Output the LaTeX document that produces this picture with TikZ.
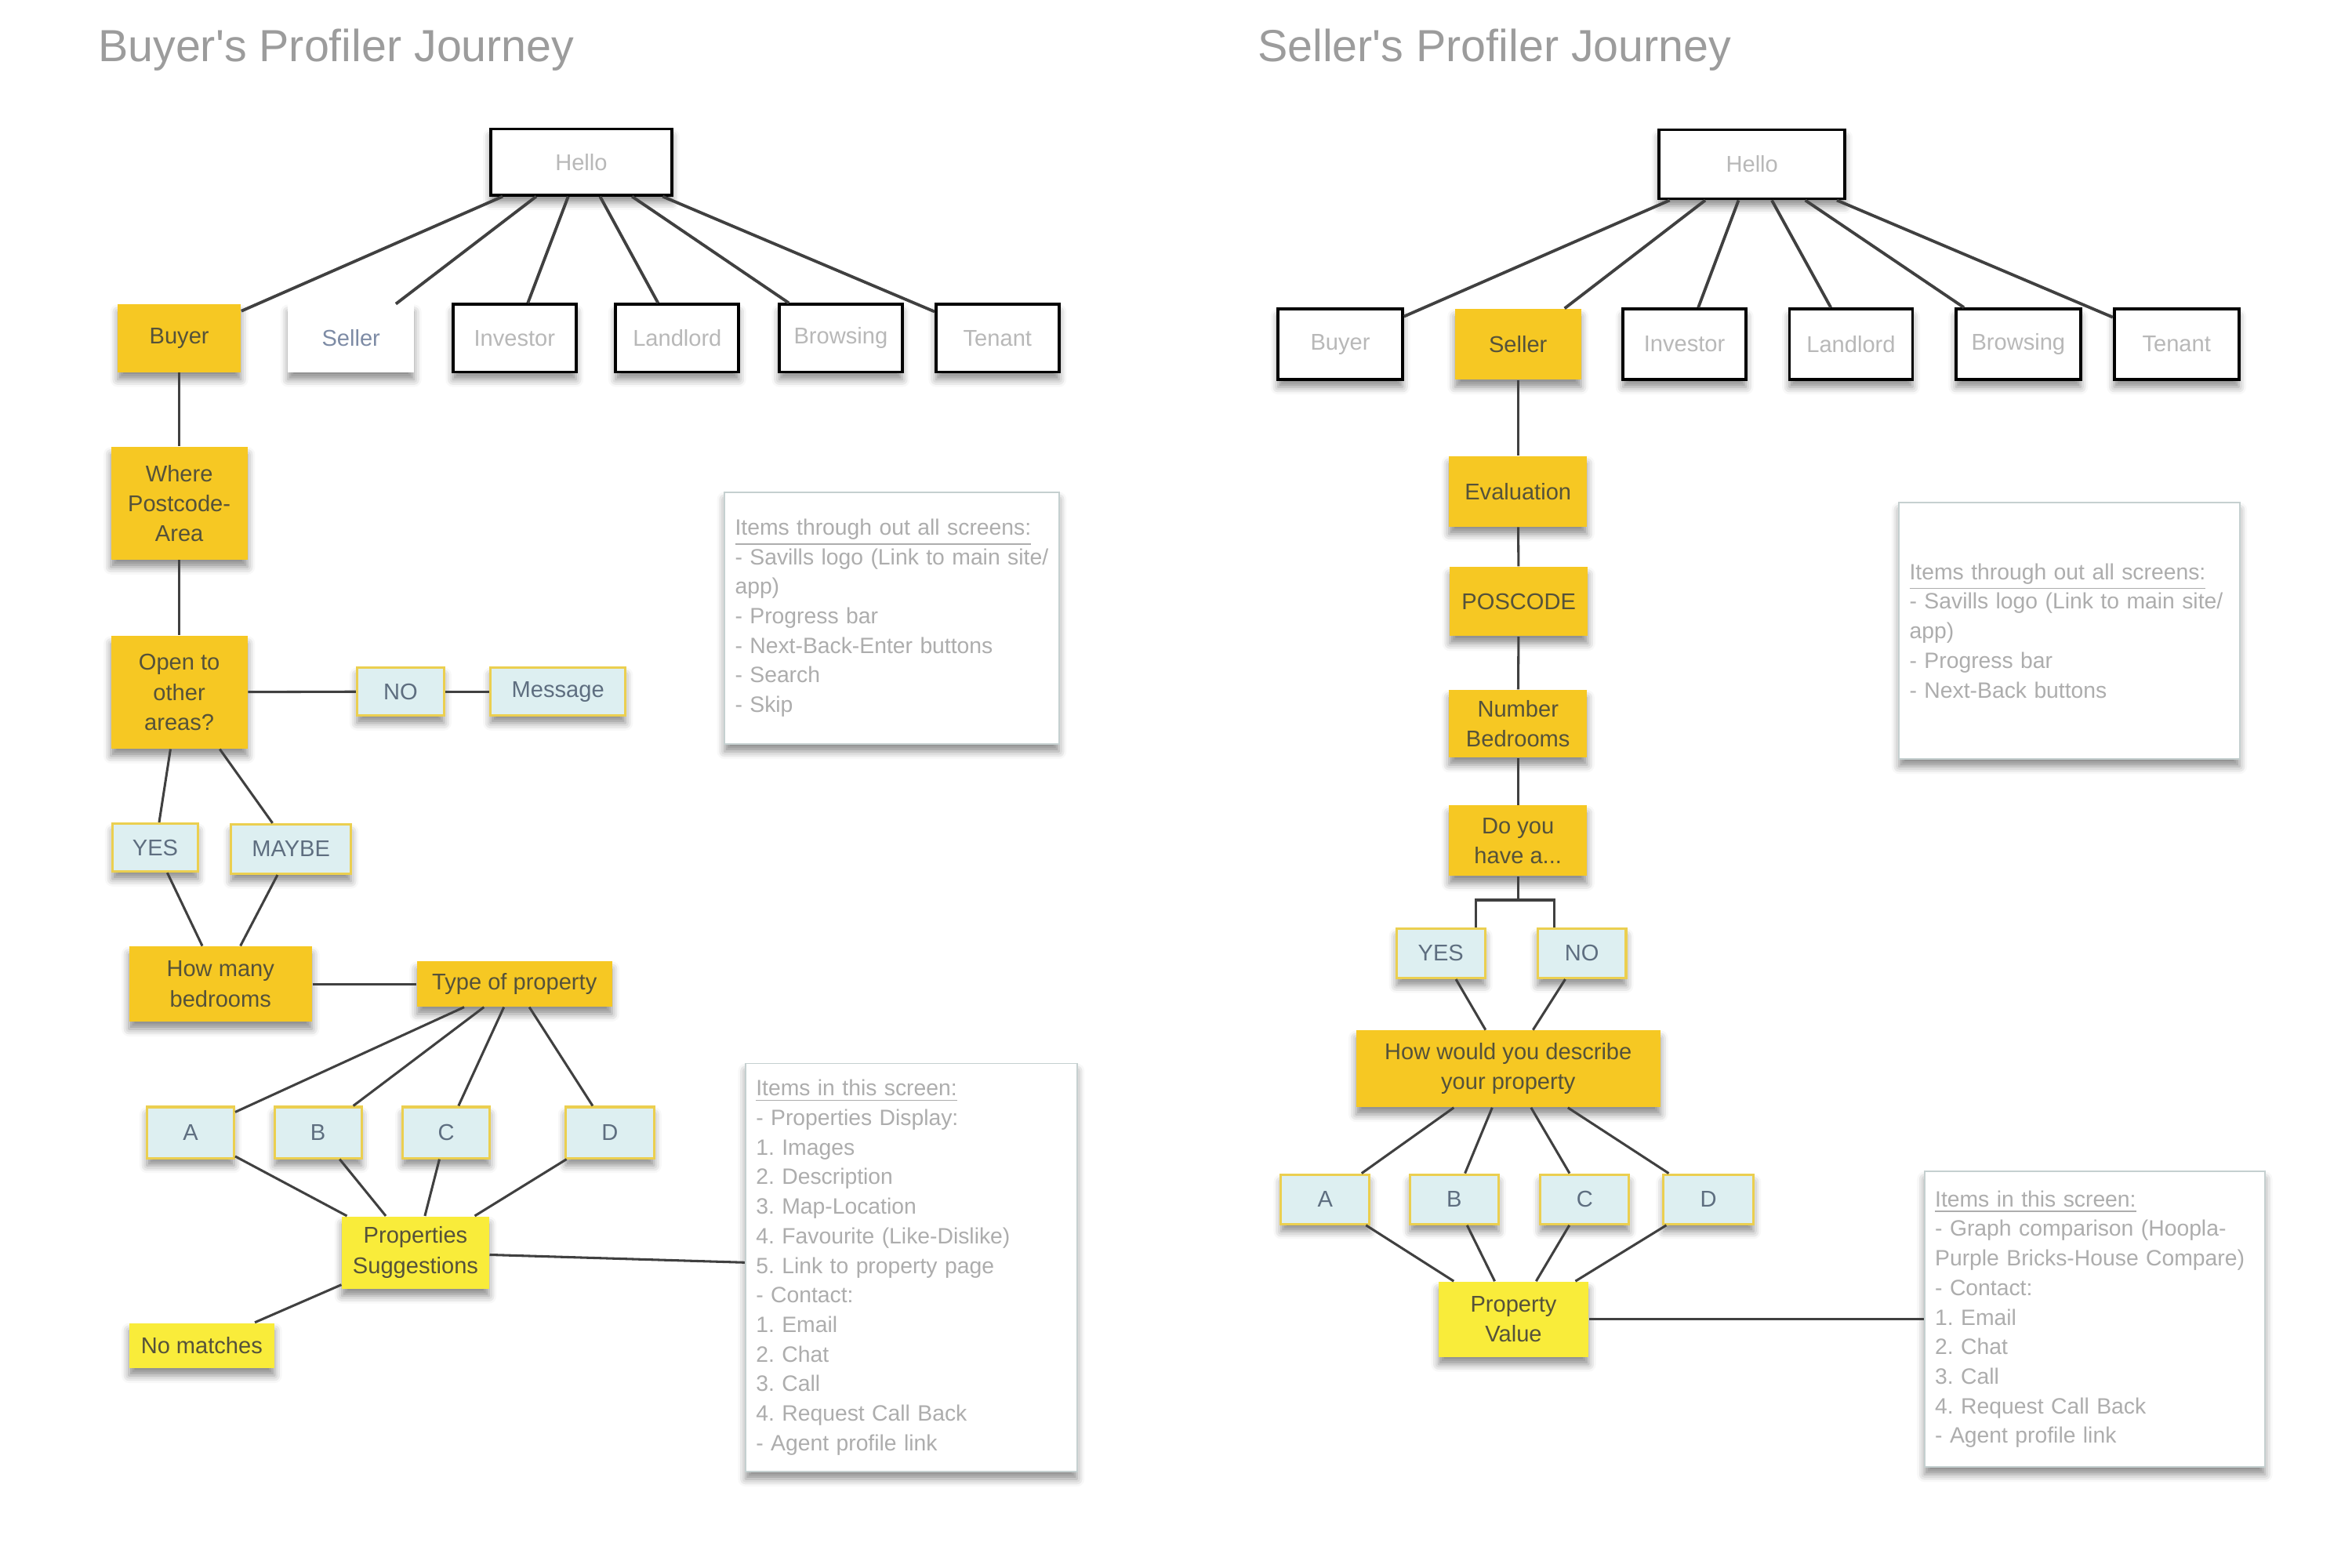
\documentclass[tikz,border=0pt]{standalone}
\usepackage{fontspec}
\setmainfont{Liberation Sans}
\usetikzlibrary{shadows.blur}
\frenchspacing

\definecolor{gold}{HTML}{F6C823}
\definecolor{lemon}{HTML}{F9EC3A}
\definecolor{paleblue}{HTML}{DDEFF1}
\definecolor{rim}{HTML}{EBCF50}
\definecolor{inkslate}{HTML}{5E6E80}
\definecolor{inkolive}{HTML}{55523A}
\definecolor{hellogray}{HTML}{B8B8B8}
\definecolor{sellerblue}{HTML}{7D8BA5}
\definecolor{memotext}{HTML}{ADADAD}
\definecolor{memoline}{HTML}{C5D0D0}
\definecolor{titlegray}{HTML}{9C9C9C}
\definecolor{wiregray}{HTML}{404040}

\newcommand{\cardfont}{\fontsize{7.6}{10}\selectfont}
\newcommand{\memofont}{\fontsize{7.4}{9.85}\selectfont}
\newcommand{\headfont}{\fontsize{15}{18}\selectfont}

\begin{document}
\begin{tikzpicture}
  [x=.5pt,y=-.5pt,every node/.style={rectangle,inner sep=1pt,align=center,font=\cardfont},
   dims/.style 2 args={minimum width=#1*.5pt,minimum height=#2*.5pt},
   lifted/.style={blur shadow={shadow xshift=0pt,shadow yshift=-2.5pt,shadow blur radius=2.5pt,shadow opacity=45}}]
  \tikzstyle{screen} = [draw=black,line width=1pt,fill=white,text=hellogray,lifted]
  \tikzstyle{bare} = [fill=white,text=sellerblue,lifted]
  \tikzstyle{question} = [fill=gold,text=inkolive,lifted]
  \tikzstyle{result} = [fill=lemon,text=inkolive,lifted]
  \tikzstyle{answer} = [draw=rim,line width=.8pt,fill=paleblue,text=inkslate,lifted]
  \tikzstyle{memo} = [draw=memoline,line width=.5pt,fill=white,text=memotext,font=\memofont,align=left,inner xsep=3.5pt,lifted]
  \tikzstyle{heading} = [text=titlegray,font=\headfont,anchor=base west,inner sep=0pt]
  \tikzstyle{wire} = [draw=wiregray,line width=.8pt]

  \useasboundingbox (0,0) rectangle (1568,1045.3);

  % buyer's journey
  \node[heading] (buyertitle) at (65,41) {Buyer\textquotesingle s Profiler Journey};
  \node[screen,dims={121}{44}] (hello) at (387.5,108) {Hello};
  \node[question,dims={82}{45}] (buyer) at (119.5,225.5) {Buyer};
  \node[bare,dims={84}{45}] (seller) at (234,225.5) {Seller};
  \node[screen,dims={82}{45}] (investor) at (343,225.5) {Investor};
  \node[screen,dims={82}{45}] (landlord) at (451.5,225.5) {Landlord};
  \node[screen,dims={82}{45}] (browsing) at (560.5,225.5) {Browsing};
  \node[screen,dims={82}{45}] (tenant) at (665,225.5) {Tenant};

  \node[question,dims={91}{75}] (where) at (119.5,335.5) {Where\\Postcode-\\Area};
  \node[question,dims={91}{75}] (open) at (119.5,461.5) {Open to\\other\\areas?};
  \node[answer,dims={58}{32}] (no) at (267,461) {NO};
  \node[answer,dims={90}{32}] (msg) at (372,461) {Message};
  \node[answer,dims={57}{32}] (yes) at (103.5,565) {YES};
  \node[answer,dims={80}{33}] (maybe) at (194,566) {MAYBE};
  \node[question,dims={122}{50}] (beds) at (147,656) {How many\\bedrooms};
  \node[question,dims={130}{30}] (type) at (343,656) {Type of property};
  \node[answer,dims={58}{34}] (a) at (127,755) {A};
  \node[answer,dims={58}{34}] (b) at (212,755) {B};
  \node[answer,dims={58}{34}] (c) at (297.5,755) {C};
  \node[answer,dims={59}{34}] (d) at (406.5,755) {D};
  \node[result,dims={98}{48}] (sugg) at (277,835) {Properties\\Suggestions};
  \node[result,dims={97}{30}] (nomatch) at (134.5,897) {No matches};

  \node[memo,dims={223}{168},text width=104.5pt] (allscreens) at (594.5,412)
    {\underline{Items through out all screens:}\\- Savills logo (Link to main site/\\app)\\- Progress bar\\- Next-Back-Enter buttons\\- Search\\- Skip};
  \node[memo,dims={221}{272},text width=103.5pt] (thisscreen) at (607.5,845)
    {\underline{Items in this screen:}\\- Properties Display:\\1. Images\\2. Description\\3. Map-Location\\4. Favourite (Like-Dislike)\\5. Link to property page\\- Contact:\\1. Email\\2. Chat\\3. Call\\4. Request Call Back\\- Agent profile link};

  \foreach \to in {buyer,seller,investor,landlord,browsing,tenant}
    \draw[wire,line width=1pt] (hello) -- (\to);
  \foreach \from/\to in {buyer/where,where/open,open/no,no/msg,open/yes,open/maybe,
      yes/beds,maybe/beds,beds/type,type/a,type/b,type/c,type/d,
      a/sugg,b/sugg,c/sugg,d/sugg,sugg/nomatch,sugg/thisscreen}
    \draw[wire] (\from) -- (\to);

  % seller's journey
  \node[heading] (sellertitle) at (838,41) {Seller\textquotesingle s Profiler Journey};
  \node[screen,dims={124}{46}] (hello2) at (1168,109.5) {Hello};
  \node[screen,dims={83}{47}] (buyer2) at (893.5,229.5) {Buyer};
  \node[question,dims={84}{47}] (seller2) at (1012,229.5) {Seller};
  \node[screen,dims={82}{47}] (investor2) at (1123,229.5) {Investor};
  \node[screen,dims={82}{47}] (landlord2) at (1234,229.5) {Landlord};
  \node[screen,dims={83}{47}] (browsing2) at (1345.5,229.5) {Browsing};
  \node[screen,dims={83}{47}] (tenant2) at (1451,229.5) {Tenant};

  \node[question,dims={92}{47}] (eval) at (1012,327.5) {Evaluation};
  \node[question,dims={92}{46}] (poscode) at (1012.5,401) {POSCODE};
  \node[question,dims={92}{45}] (numbeds) at (1012,482.5) {Number\\Bedrooms};
  \node[question,dims={92}{47}] (doyou) at (1012,560.5) {Do you\\have a...};
  \node[answer,dims={59}{33}] (yes2) at (960.5,635.5) {YES};
  \node[answer,dims={59}{33}] (no2) at (1054.5,635.5) {NO};
  \node[question,dims={203}{51}] (describe) at (1005.5,712.5) {How would you describe\\your property};
  \node[answer,dims={59}{33}] (a2) at (883.5,799.5) {A};
  \node[answer,dims={59}{33}] (b2) at (969.5,799.5) {B};
  \node[answer,dims={59}{33}] (c2) at (1056.5,799.5) {C};
  \node[answer,dims={60}{33}] (d2) at (1139,799.5) {D};
  \node[result,dims={100}{50}] (value) at (1009,879.5) {Property\\Value};

  \node[memo,dims={227}{171},text width=106.5pt] (allscreens2) at (1379.5,420.5)
    {\underline{Items through out all screens:}\\- Savills logo (Link to main site/\\app)\\- Progress bar\\- Next-Back buttons};
  \node[memo,dims={227}{197},text width=106.5pt] (thisscreen2) at (1396.5,879.5)
    {\underline{Items in this screen:}\\- Graph comparison (Hoopla-\\Purple Bricks-House Compare)\\- Contact:\\1. Email\\2. Chat\\3. Call\\4. Request Call Back\\- Agent profile link};

  \coordinate (forkl) at (984,600);
  \coordinate (forkr) at (1036,600);

  \foreach \to in {buyer2,seller2,investor2,landlord2,browsing2,tenant2}
    \draw[wire,line width=1pt] (hello2) -- (\to);
  \foreach \from/\to in {seller2/eval,eval/poscode,poscode/numbeds,numbeds/doyou,
      yes2/describe,no2/describe,describe/a2,describe/b2,describe/c2,describe/d2,
      a2/value,b2/value,c2/value,d2/value,value/thisscreen2}
    \draw[wire] (\from) -- (\to);
  \draw[wire] (doyou) -- (doyou |- forkl);
  \draw[wire] (yes2.north -| forkl) -- (forkl) -- (forkr) -- (no2.north -| forkr);

\end{tikzpicture}
\end{document}
